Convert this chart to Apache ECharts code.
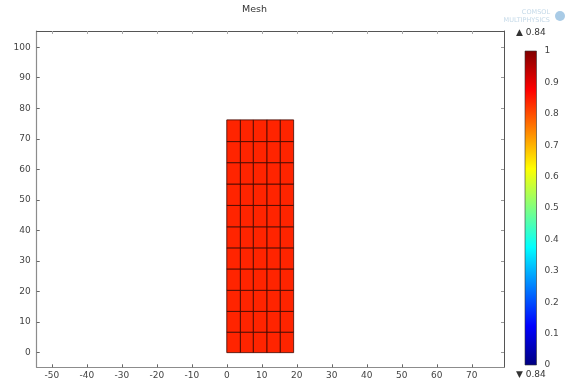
<!DOCTYPE html>
<html>
<head>
<meta charset="utf-8">
<script src="https://cdn.jsdelivr.net/npm/echarts@6/dist/echarts.min.js"></script>
<style>html,body{margin:0;padding:0;background:#fff}#c{width:568px;height:386px}</style>
</head>
<body>
<div id="c"></div>
<script>
// ---- data ----
const xTicks = [-50, -40, -30, -20, -10, 0, 10, 20, 30, 40, 50, 60, 70];
const yTicks = [0, 10, 20, 30, 40, 50, 60, 70, 80, 90, 100];
const colorbarTicks = [0, 0.1, 0.2, 0.3, 0.4, 0.5, 0.6, 0.7, 0.8, 0.9, 1];
const colEdges = [0, 3.9, 7.6, 11.5, 15.3, 19.1];
const rowEdges = [0, 6.7, 13.5, 20.4, 27.4, 34.3, 41.2, 48.2, 55.2, 62.2, 69.1, 76.2];
const meshValue = 0.84;
const rangeMax = 0.84;
const rangeMin = 0.84;
const jetColors = ['#000080', '#0000ff', '#0080ff', '#00ffff', '#80ff80', '#ffff00', '#ff8000', '#ff0000', '#800000'];

// ---- build cell table ----
const cells = [];
for (let i = 0; i < colEdges.length - 1; i++) {
  for (let j = 0; j < rowEdges.length - 1; j++) {
    cells.push([colEdges[i], colEdges[i + 1], rowEdges[j], rowEdges[j + 1], meshValue]);
  }
}

const FONT = 'DejaVu Sans';
const chart = echarts.init(document.getElementById('c'), null, { renderer: 'canvas' });

function renderCell(params, api) {
  const p0 = api.coord([api.value(0), api.value(2)]);
  const p1 = api.coord([api.value(1), api.value(3)]);
  return {
    type: 'rect',
    shape: { x: p0[0], y: p1[1], width: p1[0] - p0[0], height: p0[1] - p1[1] },
    style: { fill: api.visual('color'), stroke: '#3c0800', lineWidth: 0.8 }
  };
}

function renderBar(params, api) {
  const p0 = api.coord([0, api.value(0)]);
  const p1 = api.coord([1, api.value(1)]);
  const stops = jetColors.map((c, k) => ({ offset: k / (jetColors.length - 1), color: c }));
  return {
    type: 'rect',
    shape: { x: p0[0], y: p1[1], width: p1[0] - p0[0], height: p0[1] - p1[1] },
    style: { fill: new echarts.graphic.LinearGradient(0, 1, 0, 0, stops), stroke: '#333', lineWidth: 0.6 }
  };
}

const axisLineStyle = { color: '#8c8c8c', width: 1.2 };
const labelStyle = { color: '#444', fontFamily: FONT, fontSize: 9 };

const option = {
  animation: false,
  backgroundColor: '#ffffff',
  grid: [
    { left: 36.7, top: 31, width: 467.3, height: 336.3, containLabel: false },
    { left: 525, top: 51, width: 11.5, height: 314, containLabel: false }
  ],
  xAxis: [
    {
      type: 'value', gridIndex: 0, min: -54.3, max: 79.2, position: 'bottom',
      axisLine: { show: true, onZero: false, lineStyle: axisLineStyle },
      axisTick: { show: true, inside: true, length: 3, customValues: xTicks, lineStyle: { color: '#666' } },
      axisLabel: { show: true, customValues: xTicks, margin: 4, ...labelStyle },
      splitLine: { show: false }
    },
    {
      type: 'value', gridIndex: 0, min: -54.3, max: 79.2, position: 'top',
      axisLine: { show: true, onZero: false, lineStyle: { color: '#555', width: 1 } },
      axisTick: { show: true, inside: true, length: 3, customValues: xTicks, lineStyle: { color: '#aaa' } },
      axisLabel: { show: false },
      splitLine: { show: false }
    },
    {
      type: 'value', gridIndex: 1, min: 0, max: 1, show: false
    }
  ],
  yAxis: [
    {
      type: 'value', gridIndex: 0, min: -4.8, max: 105.3, position: 'left',
      axisLine: { show: true, onZero: false, lineStyle: axisLineStyle },
      axisTick: { show: true, inside: true, length: 3, customValues: yTicks, lineStyle: { color: '#666' } },
      axisLabel: { show: true, customValues: yTicks, margin: 6, ...labelStyle },
      splitLine: { show: false }
    },
    {
      type: 'value', gridIndex: 0, min: -4.8, max: 105.3, position: 'right',
      axisLine: { show: true, onZero: false, lineStyle: { color: '#555', width: 1 } },
      axisTick: { show: true, inside: true, length: 3, customValues: yTicks, lineStyle: { color: '#999' } },
      axisLabel: { show: false },
      splitLine: { show: false }
    },
    {
      type: 'value', gridIndex: 1, min: 0, max: 1, position: 'right',
      axisLine: { show: false },
      axisTick: { show: false },
      axisLabel: {
        show: true, customValues: colorbarTicks, margin: 8, ...labelStyle,
        formatter: v => (v === 0 ? '0' : v === 1 ? '1' : v.toFixed(1))
      },
      splitLine: { show: false }
    }
  ],
  visualMap: {
    show: false, type: 'continuous', min: 0, max: 1, dimension: 4, seriesIndex: 0,
    inRange: { color: jetColors }
  },
  series: [
    {
      type: 'custom', name: 'mesh', xAxisIndex: 0, yAxisIndex: 0,
      renderItem: renderCell, data: cells,
      encode: { x: [0, 1], y: [2, 3] }
    },
    {
      type: 'custom', name: 'colorbar', xAxisIndex: 2, yAxisIndex: 2,
      renderItem: renderBar, data: [[0, 1]],
      encode: { y: [0, 1] }
    }
  ],
  graphic: [
    { type: 'text', left: 242, top: 5, style: { text: 'Mesh', fill: '#333', font: '9.5px "DejaVu Sans"', textAlign: 'center' } },
    { type: 'text', left: 516, top: 28, style: { text: '▲ ' + rangeMax, fill: '#333', font: '9px "DejaVu Sans"' } },
    { type: 'text', left: 516, top: 370, style: { text: '▼ ' + rangeMin, fill: '#333', font: '9px "DejaVu Sans"' } },
    { type: 'text', right: 18, top: 9, style: { text: 'COMSOL', fill: '#c4d9e8', font: '6.5px "DejaVu Sans"' } },
    { type: 'text', right: 18, top: 17, style: { text: 'MULTIPHYSICS', fill: '#c4d9e8', font: '6.5px "DejaVu Sans"' } },
    { type: 'circle', shape: { cx: 560, cy: 16, r: 5 }, style: { fill: '#a9cbe6' } }
  ]
};
chart.setOption(option);
</script>
</body>
</html>
